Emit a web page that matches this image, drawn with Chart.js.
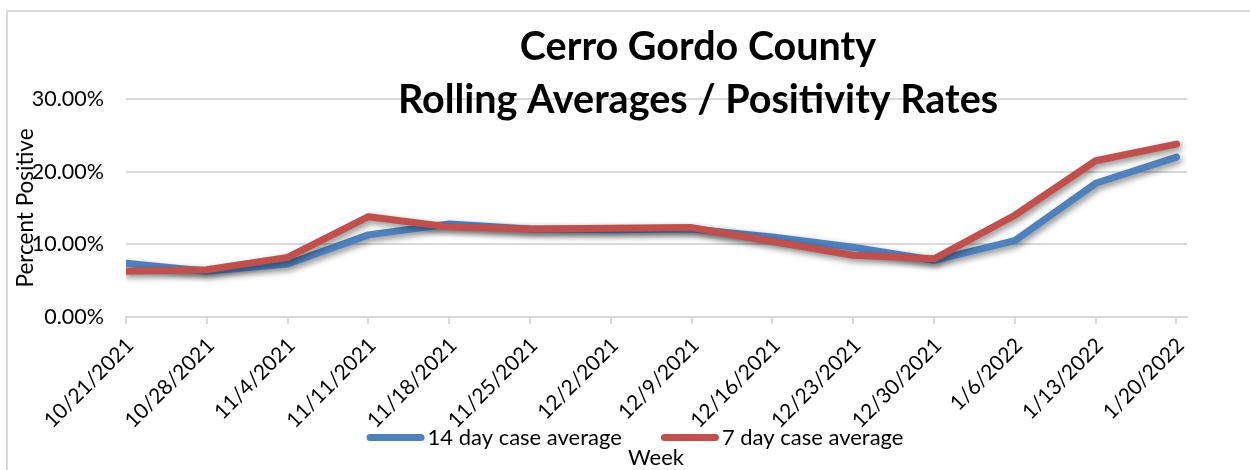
<!DOCTYPE html>
<html>
<head>
<meta charset="utf-8">
<script src="https://cdn.jsdelivr.net/npm/chart.js@4/dist/chart.umd.min.js"></script>
<style>
  html, body { margin: 0; padding: 0; background: #fff; }
  #wrap { position: relative; width: 1250px; height: 470px; }
</style>
</head>
<body>
<div id="wrap"><canvas id="chart" width="1250" height="470"></canvas></div>
<script>
const weeks = [
  "10/21/2021", "10/28/2021", "11/4/2021", "11/11/2021", "11/18/2021",
  "11/25/2021", "12/2/2021", "12/9/2021", "12/16/2021", "12/23/2021",
  "12/30/2021", "1/6/2022", "1/13/2022", "1/20/2022",
];
const avg14 = [7.4, 6.3, 7.3, 11.3, 12.8, 12.1, 12.0, 12.1, 11.0, 9.6, 7.8, 10.5, 18.4, 22.0];
const avg7 = [6.3, 6.5, 8.2, 13.8, 12.4, 12.1, 12.2, 12.3, 10.4, 8.5, 8.0, 14.0, 21.5, 23.8];
const yTicks = [0, 10, 20, 30];
const titleLines = ["Cerro Gordo County", "Rolling Averages / Positivity Rates"];
const xTitle = "Week";

const FONT = "Lato, 'Noto Sans', sans-serif";
const blue = "#4f81bd";
const red = "#c0504d";

// 엑셀처럼 선 아래에 그림자
const shadowPlugin = {
  id: "lineShadow",
  beforeDatasetDraw(chart) {
    const ctx = chart.ctx;
    ctx.save();
    ctx.shadowColor = "rgba(0,0,0,0.45)";
    ctx.shadowBlur = 6;
    ctx.shadowOffsetX = 2;
    ctx.shadowOffsetY = 3;
  },
  afterDatasetDraw(chart) {
    chart.ctx.restore();
  },
};

// 제목은 플롯 영역 위에 겹쳐서, 범례와 "Week"는 눈금 라벨 아래에, 바깥 테두리
const overlayPlugin = {
  id: "overlay",
  beforeDraw(chart) {
    const ctx = chart.ctx;
    ctx.save();
    ctx.strokeStyle = "#d9d9d9";
    ctx.lineWidth = 2;
    ctx.strokeRect(7, 11, 1400, 600);
    ctx.restore();
  },
  afterDraw(chart) {
    const ctx = chart.ctx;
    ctx.save();
    ctx.fillStyle = "#000";
    ctx.textAlign = "center";
    ctx.textBaseline = "alphabetic";
    ctx.font = "bold 39.5px " + FONT;
    ctx.fillText(titleLines[0], 698, 60);
    ctx.fillText(titleLines[1], 698, 113);

    ctx.font = "22px " + FONT;
    ctx.textBaseline = "middle";
    ctx.fillText(xTitle, 656, 458);

    // 범례: 선 모양 견본 + 라벨, 가운데 x=635
    const items = chart.data.datasets.map((ds) => ({
      text: ds.label,
      color: ds.borderColor,
      w: ctx.measureText(ds.label).width,
    }));
    const swatch = 58, gap = 3, between = 39;
    let total = items.reduce((s, it) => s + swatch + gap + it.w, 0) + between * (items.length - 1);
    let x = 635 - total / 2;
    const y = 437.5;
    ctx.textAlign = "left";
    items.forEach((it) => {
      ctx.fillStyle = it.color;
      ctx.beginPath();
      ctx.roundRect(x, y - 3.5, swatch, 7, 3.5);
      ctx.fill();
      x += swatch + gap;
      ctx.fillStyle = "#000";
      ctx.fillText(it.text, x, y);
      x += it.w + between;
    });
    ctx.restore();
  },
};

new Chart(document.getElementById("chart"), {
  type: "line",
  data: {
    datasets: [
      {
        label: "14 day case average",
        data: avg14.map((v, i) => ({ x: i, y: v })),
        borderColor: blue,
        backgroundColor: blue,
        borderWidth: 7,
        borderCapStyle: "round",
        borderJoinStyle: "round",
        pointRadius: 0,
        tension: 0,
        order: 2,
      },
      {
        label: "7 day case average",
        data: avg7.map((v, i) => ({ x: i, y: v })),
        borderColor: red,
        backgroundColor: red,
        borderWidth: 7,
        borderCapStyle: "round",
        borderJoinStyle: "round",
        pointRadius: 0,
        tension: 0,
        order: 1,
      },
    ],
  },
  options: {
    responsive: false,
    animation: false,
    devicePixelRatio: 1,
    layout: { padding: { top: 99, left: 10, right: 63, bottom: 0 } },
    plugins: {
      tooltip: { enabled: false },
      legend: { display: false },
    },
    scales: {
      x: {
        type: "linear",
        min: 0,
        max: 13.13,
        afterBuildTicks(scale) {
          scale.ticks = weeks.map((w, i) => ({ value: i }));
        },
        afterFit(scale) {
          scale.height = 153;
        },
        ticks: {
          autoSkip: false,
          maxRotation: 45,
          minRotation: 45,
          padding: 9,
          labelOffset: 4,
          color: "#000",
          font: { family: FONT, size: 21 },
          callback: (v) => weeks[v],
        },
        grid: {
          drawOnChartArea: false,
          drawTicks: true,
          tickLength: 7,
          color: "#d9d9d9",
          lineWidth: 2,
        },
        border: { color: "#d9d9d9", width: 2 },
      },
      y: {
        min: 0,
        max: 30,
        afterBuildTicks(scale) {
          scale.ticks = yTicks.map((v) => ({ value: v }));
        },
        afterFit(scale) {
          scale.width = 116;
        },
        ticks: {
          padding: 22,
          color: "#000",
          font: { family: FONT, size: 21.5 },
          callback: (v) => v.toFixed(2) + "%",
        },
        grid: { color: "#d9d9d9", lineWidth: 2, drawTicks: false },
        border: { display: false },
        title: {
          display: true,
          text: "Percent Positive",
          color: "#000",
          font: { family: FONT, size: 22.5 },
          padding: { top: 2, bottom: 0 },
        },
      },
    },
  },
  plugins: [shadowPlugin, overlayPlugin],
});
</script>
</body>
</html>
